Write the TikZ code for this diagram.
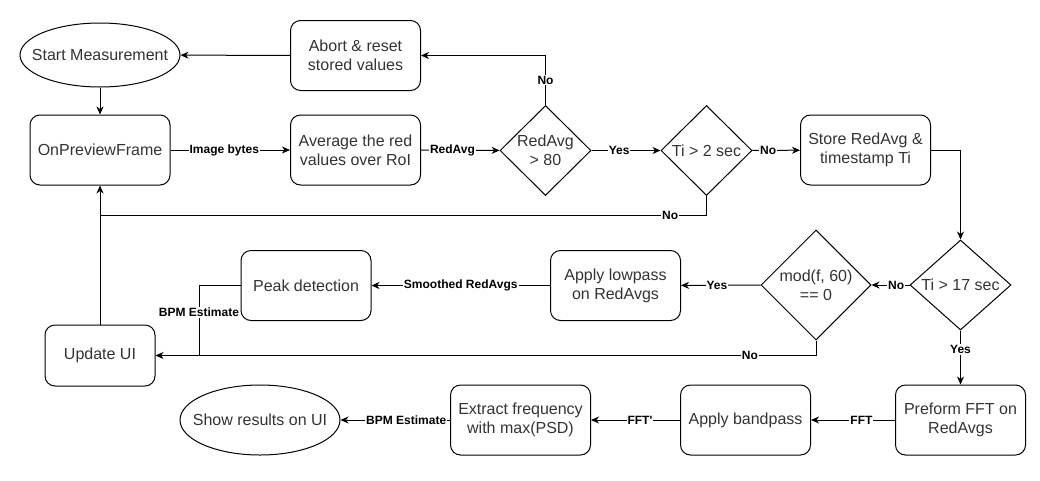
\documentclass[tikz,border=0pt]{standalone}
\usepackage{fontspec}
\setmainfont{Liberation Sans}
\usetikzlibrary{shapes.geometric,arrows.meta}
\begin{document}
\begin{tikzpicture}[x=1pt, y=-1pt, line width=1pt,
  font=\fontsize{16}{19}\selectfont,
  box/.style={draw, rounded corners=10pt, align=center, minimum width=130pt,
    minimum height=70pt, inner sep=2pt, text=black!80},
  term/.style={draw, ellipse, align=center, minimum width=160pt,
    minimum height=70pt, inner xsep=-20pt, inner ysep=0pt, text=black!80},
  cond/.style={draw, diamond, aspect=1, align=center, inner sep=0pt, text=black!80},
  flow/.style={-{Stealth[length=8pt, width=7pt, inset=2.5pt]}},
  lbl/.style={font=\fontsize{12}{14}\selectfont\bfseries, fill=white, inner sep=1pt}]
  \useasboundingbox (0,0) rectangle (1040,480);
  % 1px = 1pt, y grows downwards
  \node[term, minimum height=64pt] (start) at (100,55) {Start Measurement};
  \node[box] (abort) at (355.5,55.5) {Abort \& reset\\stored values};
  \node[box, minimum width=140pt] (preview) at (100,150) {OnPreviewFrame};
  \node[box] (avg) at (355.5,150) {Average the red\\values over RoI};
  \node[cond, minimum width=91pt, minimum height=90pt] (red) at (545.5,150.5) {RedAvg\\> 80};
  \node[cond, minimum width=91pt, minimum height=90pt] (ti2) at (706.5,150.5) {Ti > 2 sec};
  \node[box] (store) at (865.5,150) {Store RedAvg \&\\timestamp Ti};
  \node[cond, minimum width=101pt, minimum height=90pt] (ti17) at (960.5,285) {Ti > 17 sec};
  \node[cond, minimum width=110pt, minimum height=110pt] (mod) at (816,285) {mod(f, 60)\\== 0};
  \node[box] (lowpass) at (615.5,285.5) {Apply lowpass\\on RedAvgs};
  \node[box] (peak) at (306,285.5) {Peak detection};
  \node[box, minimum width=110pt, minimum height=61pt] (ui) at (100,355.5) {Update UI};
  \node[term] (show) at (260,420) {Show results on UI};
  \node[box, minimum width=140pt] (extract) at (520.5,420) {Extract frequency\\with max(PSD)};
  \node[box] (band) at (745.5,420) {Apply bandpass};
  \node[box] (fft) at (960.5,420) {Preform FFT on\\RedAvgs};
  \coordinate (back) at (100,215);
  \coordinate (bpm) at (199,355.5);
  % top row
  \draw[flow] (start) -- (preview);
  \draw[flow] (abort) -- (start);
  \draw[flow] (red.north) |- node[lbl, pos=0.25] {No} (abort.east);
  \draw[flow] (preview) -- node[lbl, pos=0.45] {Image bytes} (avg);
  \draw[flow] (avg) -- node[lbl, pos=0.4] {RedAvg} (red);
  \draw[flow] (red) -- node[lbl, pos=0.4] {Yes} (ti2);
  \draw[flow] (ti2) -- node[lbl, pos=0.33] {No} (store);
  \draw (ti2.south) |- node[lbl, pos=0.53] {No} (back);
  \draw[flow] (ui) -- (preview);
  % middle row
  \draw[flow] (store.east) -| (ti17.north);
  \draw[flow] (ti17) -- node[lbl, pos=0.35] {No} (mod);
  \draw[flow] (mod) -- node[lbl, pos=0.55] {Yes} (lowpass);
  \draw[flow] (mod.south) |- node[lbl, pos=0.55] {No} (ui.east);
  \draw[flow] (lowpass) -- node[lbl] {Smoothed RedAvgs} (peak);
  \draw (peak.west) -| node[lbl, pos=0.69] {BPM Estimate} (bpm);
  % bottom row
  \draw[flow] (ti17) -- node[lbl, pos=0.35] {Yes} (fft);
  \draw[flow] (fft) -- node[lbl, pos=0.4] {FFT} (band);
  \draw[flow] (band) -- node[lbl, pos=0.45] {FFT\textquotesingle} (extract);
  \draw[flow] (extract) -- node[lbl, pos=0.4] {BPM Estimate} (show);
\end{tikzpicture}
\end{document}
